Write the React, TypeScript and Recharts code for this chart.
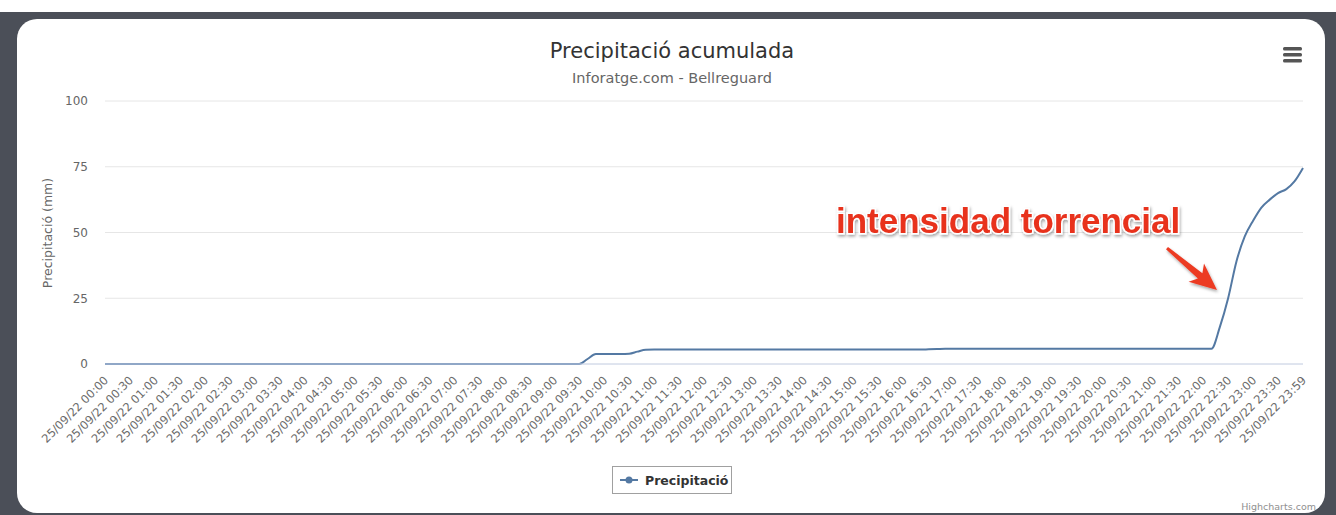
import { CartesianGrid, Line, LineChart, XAxis, YAxis } from 'recharts'

const FONT = '"DejaVu Sans", Verdana, sans-serif'
const DATE = '25/09/22'

// 10-minute readings, last one at 23:59
const times: string[] = [
  ...Array.from({ length: 144 }, (_, i) => {
    const h = String(Math.floor(i / 6)).padStart(2, '0')
    const m = String((i % 6) * 10).padStart(2, '0')
    return `${h}:${m}`
  }),
  '23:59',
]

// accumulated precipitation (mm), one row per hour
const rain: number[] = [
  0, 0, 0, 0, 0, 0, // 00
  0, 0, 0, 0, 0, 0, // 01
  0, 0, 0, 0, 0, 0, // 02
  0, 0, 0, 0, 0, 0, // 03
  0, 0, 0, 0, 0, 0, // 04
  0, 0, 0, 0, 0, 0, // 05
  0, 0, 0, 0, 0, 0, // 06
  0, 0, 0, 0, 0, 0, // 07
  0, 0, 0, 0, 0, 0, // 08
  0, 0, 0, 0, 1.9, 3.8, // 09
  3.8, 3.8, 3.8, 3.9, 4.7, 5.4, // 10
  5.5, 5.5, 5.5, 5.5, 5.5, 5.5, // 11
  5.5, 5.5, 5.5, 5.5, 5.5, 5.5, // 12
  5.5, 5.5, 5.5, 5.5, 5.5, 5.5, // 13
  5.5, 5.5, 5.5, 5.5, 5.5, 5.5, // 14
  5.5, 5.5, 5.5, 5.5, 5.5, 5.5, // 15
  5.5, 5.5, 5.5, 5.6, 5.7, 5.8, // 16
  5.8, 5.8, 5.8, 5.8, 5.8, 5.8, // 17
  5.8, 5.8, 5.8, 5.8, 5.8, 5.8, // 18
  5.8, 5.8, 5.8, 5.8, 5.8, 5.8, // 19
  5.8, 5.8, 5.8, 5.8, 5.8, 5.8, // 20
  5.8, 5.8, 5.8, 5.8, 5.8, 5.8, // 21
  5.8, 5.8, 14, 25, 39, 48.5, // 22
  54.5, 59.5, 62.5, 65, 66.5, 69.5, 74.5, // 23
]

const yTicks = [0, 25, 50, 75, 100]

const data = times.map((t, i) => ({ t, rain: rain[i] }))

function TimeTick({ x, y, payload }: any) {
  const ax = x + 4
  const ay = y + 17
  return (
    <text
      x={ax}
      y={ay}
      transform={`rotate(-45 ${ax} ${ay})`}
      textAnchor="end"
      fontSize={11.5}
      fill="#6a6a6a"
      fontFamily={FONT}
    >
      {`${DATE} ${payload.value}`}
    </text>
  )
}

export default function App() {
  return (
    <div style={{ position: 'absolute', left: 0, top: 0, width: 1336, height: 515, background: '#fff' }}>
      <div style={{ position: 'absolute', left: 0, top: 12, width: 1336, height: 503, background: '#4b4f58' }} />
      <div
        style={{
          position: 'absolute',
          left: 17,
          top: 19,
          width: 1308,
          height: 494,
          background: '#fff',
          borderRadius: 20,
          overflow: 'hidden',
        }}
      >
        <LineChart width={1308} height={494} data={data} margin={{ top: 82, right: 22, bottom: 0, left: 28 }}>
          <CartesianGrid horizontal vertical={false} stroke="#e6e6e6" />
          <XAxis
            dataKey="t"
            interval={2}
            height={149}
            tickLine={false}
            tickSize={0}
            tickMargin={0}
            axisLine={{ stroke: '#ccd6eb' }}
            tick={<TimeTick />}
          />
          <YAxis
            domain={[0, 100]}
            ticks={yTicks}
            width={60}
            axisLine={false}
            tickLine={false}
            tickSize={0}
            tickMargin={17}
            tick={{ fontSize: 12, fill: '#666', fontFamily: FONT }}
          />
          <Line
            type="monotone"
            dataKey="rain"
            name="Precipitació"
            stroke="#5479a3"
            strokeWidth={2}
            dot={false}
            isAnimationActive={false}
          />
        </LineChart>

        <svg width={1308} height={494} style={{ position: 'absolute', left: 0, top: 0, pointerEvents: 'none' }}>
          <defs>
            <filter id="shadow" x="-10%" y="-30%" width="120%" height="160%">
              <feDropShadow dx="1" dy="2" stdDeviation="1.5" floodColor="#000" floodOpacity="0.35" />
            </filter>
          </defs>
          <text x={655} y={39} textAnchor="middle" fontSize={21} fill="#333" fontFamily={FONT}>
            Precipitació acumulada
          </text>
          <text x={655} y={64} textAnchor="middle" fontSize={14.5} fill="#666" fontFamily={FONT}>
            Inforatge.com - Bellreguard
          </text>
          <text
            x={31}
            y={214}
            transform="rotate(-90 31 214)"
            textAnchor="middle"
            dominantBaseline="middle"
            fontSize={12.5}
            fill="#666"
            fontFamily={FONT}
          >
            Precipitació (mm)
          </text>
          {/* export menu */}
          <g fill="#555">
            <rect x={1266} y={28} width={19} height={3.5} rx={1.5} />
            <rect x={1266} y={34} width={19} height={3.5} rx={1.5} />
            <rect x={1266} y={40} width={19} height={3.5} rx={1.5} />
          </g>
          {/* annotation */}
          <text
            x={819}
            y={214}
            fontSize={35}
            fontWeight="bold"
            fontFamily='"Liberation Sans", Arial, sans-serif'
            fill="#e8331f"
            stroke="#fff"
            strokeWidth={3}
            paintOrder="stroke"
            filter="url(#shadow)"
          >
            intensidad torrencial
          </text>
          <polygon
            points="1151,227.9 1185.4,254.2 1187,244.4 1200,271 1171.6,262.8 1180.9,259.6 1149,230.2"
            fill="#ec3a22"
            filter="url(#shadow)"
          />
          <text x={1299} y={491} textAnchor="end" fontSize={9.5} fill="#909090" fontFamily={FONT}>
            Highcharts.com
          </text>
        </svg>

        <div
          style={{
            position: 'absolute',
            left: 595,
            top: 447,
            width: 118,
            height: 26,
            border: '1px solid #a0a0a0',
            display: 'flex',
            alignItems: 'center',
            fontFamily: FONT,
            fontSize: 12.5,
            fontWeight: 'bold',
            color: '#333',
          }}
        >
          <svg width={26} height={12} style={{ marginLeft: 6 }}>
            <line x1={1} y1={6} x2={19} y2={6} stroke="#5479a3" strokeWidth={2} />
            <circle cx={10} cy={6} r={3.5} fill="#5479a3" />
          </svg>
          <span>Precipitació</span>
        </div>
      </div>
    </div>
  )
}
